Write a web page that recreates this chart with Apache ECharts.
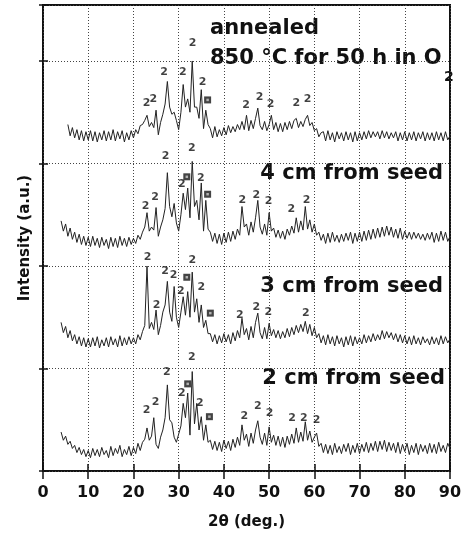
<!DOCTYPE html>
<html>
<head>
<meta charset="utf-8">
<script src="https://cdn.jsdelivr.net/npm/echarts@6/dist/echarts.min.js"></script>
<style>
html,body{margin:0;padding:0;background:#fff;}
#chart{width:467px;height:535px;}
</style>
</head>
<body>
<div id="chart"></div>
<script>
// 2theta sampling grid, 4..90 deg every 0.5 deg
var twoTheta = [];
for (var k = 0; k <= 172; k++) twoTheta.push(4 + k * 0.5);

// vertical offset of each trace (one panel per trace)
var traceOffsets = [0, 1, 2, 3];
var traceNames = ['2 cm from seed', '3 cm from seed', '4 cm from seed', 'annealed'];

var cm2 = [
  0.38,0.30,0.34,0.26,0.29,0.22,0.25,0.18,0.23,0.16,0.21,0.14,
  0.20,0.13,0.22,0.15,0.21,0.14,0.23,0.16,0.20,0.13,0.24,0.15,0.22,0.17,0.25,0.14,0.21,0.16,0.24,0.15,
  0.23,0.17,0.27,0.20,
  0.28,0.31,0.42,0.30,0.34,0.52,0.26,0.22,0.33,0.40,0.52,0.84,0.50,0.47,0.33,0.28,0.36,0.44,0.66,0.52,0.76,0.35,0.97,0.46,0.66,0.40,0.53,0.30,0.45,0.28,
  0.30,0.21,0.29,0.20,0.28,0.19,0.30,0.22,0.29,0.20,0.31,0.23,0.33,0.25,
  0.45,0.30,0.36,0.24,0.37,0.27,0.40,0.49,0.33,0.26,0.37,0.25,0.43,0.28,0.35,0.25,0.34,0.24,0.33,0.23,0.34,0.26,0.36,0.27,0.42,0.28,0.38,0.29,0.48,0.30,0.39,0.28,0.33,0.37,0.24,0.27,
  0.18,0.26,0.17,0.25,0.16,0.27,0.18,0.24,
  0.17,0.26,0.19,0.27,0.16,0.25,0.18,0.27,
  0.17,0.26,0.19,0.28,0.18,0.27,0.20,0.29,
  0.19,0.29,0.21,0.30,0.19,0.28,0.20,0.27,
  0.18,0.28,0.17,0.26,0.19,0.27,0.16,0.25,
  0.18,0.27,0.16,0.26,0.19,0.25,0.17,0.27,
  0.18,0.26,0.17,0.28,0.19,0.25,0.18,0.27,
  0.22
];

var cm3 = [
  0.45,0.35,0.41,0.30,0.37,0.27,0.33,0.24,0.31,0.22,0.30,0.21,
  0.29,0.21,0.30,0.22,0.31,0.20,0.28,0.22,0.30,0.21,0.31,0.23,0.29,0.21,0.32,0.22,0.30,0.23,0.31,0.24,
  0.30,0.24,0.33,0.28,
  0.36,0.42,1.00,0.39,0.45,0.38,0.57,0.33,0.42,0.55,0.62,0.85,0.55,0.46,0.80,0.50,0.40,0.55,0.70,0.52,0.75,0.50,0.94,0.55,0.68,0.45,0.62,0.40,0.47,0.34,
  0.34,0.26,0.33,0.24,0.32,0.25,0.34,0.26,0.33,0.24,0.35,0.27,0.37,0.30,
  0.49,0.33,0.39,0.28,0.41,0.30,0.45,0.54,0.35,0.29,0.40,0.29,0.44,0.32,0.38,0.30,0.37,0.29,0.36,0.30,0.39,0.31,0.40,0.33,0.42,0.35,0.43,0.36,0.46,0.34,0.43,0.32,0.40,0.30,0.34,0.25,
  0.32,0.23,0.33,0.24,0.31,0.22,0.32,0.24,
  0.30,0.21,0.31,0.23,0.32,0.22,0.31,0.24,
  0.30,0.24,0.33,0.25,0.32,0.26,0.34,0.27,
  0.33,0.28,0.37,0.29,0.36,0.30,0.35,0.28,
  0.34,0.26,0.33,0.25,0.32,0.24,0.31,0.23,
  0.32,0.24,0.30,0.23,0.31,0.25,0.29,0.23,
  0.31,0.24,0.30,0.23,0.32,0.24,0.31,0.25,
  0.29
];

var cm4 = [
  0.44,0.34,0.41,0.29,0.37,0.26,0.33,0.23,0.31,0.21,0.29,0.20,
  0.28,0.19,0.29,0.20,0.27,0.18,0.28,0.20,0.26,0.17,0.28,0.19,0.27,0.18,0.29,0.20,0.27,0.19,0.28,0.21,
  0.27,0.22,0.30,0.26,
  0.33,0.38,0.52,0.34,0.38,0.35,0.57,0.29,0.38,0.45,0.56,0.91,0.58,0.48,0.61,0.42,0.34,0.50,0.71,0.55,0.76,0.47,1.02,0.58,0.64,0.45,0.81,0.34,0.64,0.36,
  0.33,0.24,0.32,0.22,0.31,0.21,0.32,0.23,0.33,0.24,0.34,0.26,0.36,0.30,
  0.58,0.38,0.41,0.30,0.43,0.33,0.47,0.64,0.38,0.31,0.41,0.30,0.52,0.34,0.37,0.28,0.35,0.27,0.34,0.26,0.36,0.30,0.39,0.32,0.47,0.33,0.44,0.35,0.58,0.36,0.45,0.33,0.41,0.30,0.33,0.25,
  0.31,0.22,0.32,0.23,0.33,0.24,0.30,0.23,
  0.31,0.24,0.32,0.25,0.33,0.22,0.32,0.24,
  0.33,0.24,0.34,0.25,0.35,0.26,0.36,0.27,
  0.37,0.28,0.38,0.29,0.39,0.30,0.38,0.28,
  0.36,0.27,0.37,0.26,0.34,0.27,0.33,0.26,
  0.33,0.27,0.32,0.26,0.31,0.25,0.32,0.26,
  0.33,0.23,0.32,0.24,0.34,0.25,0.33,0.24,
  0.29
];

var annealed = [
  null,null,null,0.38,0.27,0.35,0.25,0.33,0.23,0.32,0.22,0.31,
  0.23,0.32,0.22,0.31,0.21,0.30,0.23,0.32,0.22,0.31,0.23,0.33,0.22,0.31,0.24,0.32,0.21,0.30,0.23,0.32,
  0.25,0.33,0.29,0.37,
  0.38,0.42,0.47,0.36,0.40,0.35,0.52,0.28,0.40,0.48,0.58,0.80,0.55,0.48,0.50,0.42,0.33,0.50,0.77,0.55,0.63,0.50,1.00,0.55,0.55,0.44,0.72,0.34,0.52,0.38,
  0.34,0.25,0.36,0.26,0.33,0.27,0.35,0.28,0.37,0.30,0.36,0.31,0.38,0.33,
  0.41,0.33,0.47,0.32,0.42,0.34,0.44,0.54,0.37,0.33,0.41,0.32,0.38,0.47,0.33,0.40,0.31,0.39,0.31,0.40,0.33,0.41,0.34,0.42,0.44,0.35,0.41,0.36,0.43,0.47,0.37,0.40,0.32,0.34,0.26,0.30,
  0.31,0.22,0.32,0.23,0.30,0.21,0.31,0.24,
  0.30,0.22,0.31,0.23,0.30,0.21,0.31,0.22,
  0.30,0.23,0.31,0.24,0.32,0.25,0.31,0.26,
  0.31,0.24,0.32,0.25,0.31,0.24,0.30,0.25,
  0.31,0.22,0.30,0.23,0.31,0.22,0.30,0.23,
  0.31,0.22,0.30,0.24,0.31,0.22,0.30,0.23,
  0.30,0.22,0.31,0.23,0.30,0.22,0.31,0.23,
  0.27
];

// peak markers: "2" phase labels and square-marked peaks, [2theta, plot height]
var phase2Marks = [
  [22.9,3.59],[24.4,3.63],[26.8,3.89],[30.9,3.89],[33.1,4.17],[35.3,3.79],[44.9,3.57],[47.9,3.65],[50.3,3.58],[56.0,3.59],[58.5,3.63],
  [22.7,2.58],[24.8,2.67],[27.1,3.07],[30.7,2.80],[32.9,3.15],[34.9,2.86],[44.1,2.64],[47.2,2.69],[49.9,2.63],[54.9,2.55],[58.3,2.64],
  [23.1,2.09],[25.1,1.62],[27.0,1.95],[28.9,1.91],[30.5,1.75],[33.0,2.06],[35.0,1.79],[43.5,1.52],[47.2,1.60],[49.8,1.55],[58.1,1.54],
  [22.9,0.59],[24.9,0.67],[27.4,0.96],[30.7,0.76],[32.9,1.11],[34.7,0.66],[44.5,0.54],[47.5,0.63],[50.1,0.56],[55.1,0.52],[57.7,0.52],[60.5,0.50]
];
var squareMarks = [
  [36.4,3.62],
  [31.8,2.87],[36.4,2.70],
  [31.8,1.89],[37.0,1.54],
  [32.0,0.85],[36.8,0.53]
];

var xTicks = [0, 10, 20, 30, 40, 50, 60, 70, 80, 90];

var FONT = '"DejaVu Sans", sans-serif';

function traceSeries(vals, off) {
  var pts = [];
  for (var i = 0; i < twoTheta.length; i++) {
    pts.push([twoTheta[i], vals[i] == null ? null : vals[i] + off]);
  }
  return pts;
}

var traces = [cm2, cm3, cm4, annealed];
var series = [];
traces.forEach(function (t, i) {
  series.push({
    name: traceNames[i],
    type: 'line',
    data: traceSeries(t, traceOffsets[i]),
    showSymbol: false,
    connectNulls: false,
    lineStyle: { color: '#222', width: 1 },
    animation: false
  });
});
series.push({
  type: 'scatter',
  data: phase2Marks,
  symbolSize: 1,
  itemStyle: { color: 'rgba(0,0,0,0)' },
  label: {
    show: true, position: 'inside', formatter: '2',
    fontFamily: FONT, fontWeight: 'bold', fontSize: 11, color: '#111'
  },
  animation: false
});
series.push({
  type: 'scatter',
  data: squareMarks,
  symbol: 'rect',
  symbolSize: 7,
  itemStyle: { color: '#151515' },
  animation: false
});
series.push({
  type: 'scatter',
  data: squareMarks,
  symbol: 'rect',
  symbolSize: 2.5,
  itemStyle: { color: '#cfcfcf' },
  animation: false
});

var gridLine = { show: true, lineStyle: { color: '#444', width: 1, type: [1, 2] } };

var option = {
  backgroundColor: '#fff',
  animation: false,
  grid: {
    left: 43, right: 17, top: 5, bottom: 64,
    show: true, borderColor: '#111', borderWidth: 2, backgroundColor: 'transparent'
  },
  xAxis: [{
    type: 'value', min: xTicks[0], max: xTicks[xTicks.length - 1], interval: 10,
    position: 'bottom',
    name: '2θ (deg.)', nameLocation: 'middle', nameGap: 44,
    nameTextStyle: { fontFamily: FONT, fontWeight: 'bold', fontSize: 15, color: '#111' },
    axisLine: { show: false },
    axisTick: { show: true, inside: true, length: 7, lineStyle: { color: '#111', width: 1.5 } },
    axisLabel: { fontFamily: FONT, fontWeight: 'bold', fontSize: 16, color: '#111', margin: 14 },
    splitLine: gridLine
  }, {
    type: 'value', min: 0, max: 90, interval: 10, position: 'top',
    axisLine: { show: false },
    axisTick: { show: true, inside: true, length: 8, lineStyle: { color: '#111', width: 1.5 } },
    axisLabel: { show: false },
    splitLine: { show: false }
  }],
  yAxis: [{
    type: 'value', min: 0, max: 4.546, interval: 1,
    name: 'Intensity (a.u.)', nameLocation: 'middle', nameGap: 10,
    nameTextStyle: { fontFamily: FONT, fontWeight: 'bold', fontSize: 15, color: '#111' },
    axisLine: { show: false },
    axisTick: { show: true, inside: true, length: 5, lineStyle: { color: '#111', width: 1.5 } },
    axisLabel: { show: false },
    splitLine: gridLine
  }, {
    type: 'value', min: 0, max: 4.546, interval: 1, position: 'right',
    axisLine: { show: false },
    axisTick: { show: true, inside: true, length: 4, lineStyle: { color: '#111', width: 1.5 } },
    axisLabel: { show: false },
    splitLine: { show: false }
  }],
  graphic: [
    { type: 'text', x: 210, y: 28.5, style: { text: 'annealed', font: 'bold 21px ' + FONT, fill: '#111', align: 'left', verticalAlign: 'middle' } },
    { type: 'text', x: 210, y: 59, style: { text: '850 °C for 50 h in O', font: 'bold 21px ' + FONT, fill: '#111', align: 'left', verticalAlign: 'middle' } },
    { type: 'text', x: 444, y: 77, style: { text: '2', font: 'bold 14px ' + FONT, fill: '#111', align: 'left', verticalAlign: 'middle' } },
    { type: 'text', x: 443, y: 174, style: { text: '4 cm from seed', font: 'bold 21px ' + FONT, fill: '#111', align: 'right', verticalAlign: 'middle' } },
    { type: 'text', x: 443, y: 287, style: { text: '3 cm from seed', font: 'bold 21px ' + FONT, fill: '#111', align: 'right', verticalAlign: 'middle' } },
    { type: 'text', x: 445, y: 379, style: { text: '2 cm from seed', font: 'bold 21px ' + FONT, fill: '#111', align: 'right', verticalAlign: 'middle' } }
  ],
  series: series
};

var myChart = echarts.init(document.getElementById('chart'));
myChart.setOption(option);
</script>
</body>
</html>
